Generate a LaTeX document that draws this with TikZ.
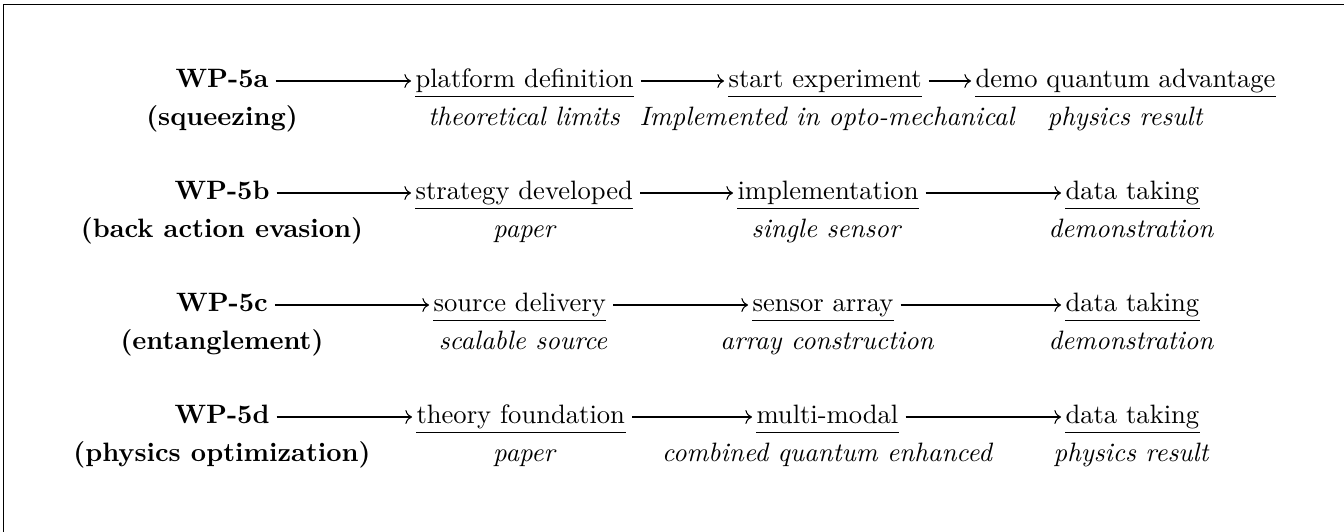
\documentclass[tikz,border=0pt]{standalone}
\usepackage{amsmath,amssymb}
\usepackage{tikz}
\usetikzlibrary{arrows.meta,calc,positioning}

\begin{document}
\begin{tikzpicture}[x=0.376pt,y=-0.376pt,
    wp/.style={font=\bfseries,inner sep=0pt,text height=1.6ex,text depth=0.5ex},
    milestone/.style={anchor=west,inner xsep=0pt,inner ysep=1pt,text height=1.6ex,text depth=0.5ex,
      append after command={(\tikzlastnode.south west) edge[-] (\tikzlastnode.south east)}},
    outcome/.style={font=\itshape,inner sep=0pt,text height=1.6ex,text depth=0.5ex},
    flow/.style={->,shorten <=2.5pt,shorten >=1.5pt}]
    \useasboundingbox (0,0) rectangle (1344,532);
    % Ramme (kun top og venstre side ses)
    \draw[line width=0.6pt] (1344,4.5) -- (3.5,4.5) -- (3.5,532);
    % WP-5a
    \node[wp] (wpa) at (222,81) {WP-5a};
    \node[wp] (wpatag) at (222,119) {(squeezing)};
    \node[milestone] (pa1) at (415,81) {platform definition};
    \node[milestone] (pa2) at (728,81) {start experiment};
    \node[milestone] (pa3) at (975,81) {demo quantum advantage\ };
    \node[outcome] (oa1) at (524,119) {theoretical limits};
    \node[outcome] (oa2) at (827,119) {Implemented in opto-mechanical};
    \node[outcome] (oa3) at (1125,119) {physics result};
    \draw[flow] (wpa) -- (pa1);
    \draw[flow] (pa1) -- (pa2);
    \draw[flow] (pa2) -- (pa3);
    % WP-5b
    \node[wp] (wpb) at (222,193) {WP-5b};
    \node[wp] (wpbtag) at (222,231) {(back action evasion)};
    \node[milestone] (pb1) at (415,193) {strategy developed};
    \node[milestone] (pb2) at (737,193) {implementation};
    \node[milestone] (pb3) at (1065,193) {data taking};
    \node[outcome] (ob1) at (524,231) {paper};
    \node[outcome] (ob2) at (826,231) {single sensor};
    \node[outcome] (ob3) at (1131,231) {demonstration};
    \draw[flow] (wpb) -- (pb1);
    \draw[flow] (pb1) -- (pb2);
    \draw[flow] (pb2) -- (pb3);
    % WP-5c
    \node[wp] (wpc) at (222,305) {WP-5c};
    \node[wp] (wpctag) at (222,343) {(entanglement)};
    \node[milestone] (pc1) at (433,305) {source delivery\ };
    \node[milestone] (pc2) at (752,305) {sensor array\ };
    \node[milestone] (pc3) at (1065,305) {data taking};
    \node[outcome] (oc1) at (523,343) {scalable source};
    \node[outcome] (oc2) at (827,343) {array construction};
    \node[outcome] (oc3) at (1131,343) {demonstration};
    \draw[flow] (wpc) -- (pc1);
    \draw[flow] (pc1) -- (pc2);
    \draw[flow] (pc2) -- (pc3);
    % WP-5d
    \node[wp] (wpd) at (222,417) {WP-5d};
    \node[wp] (wpdtag) at (222,455) {(physics optimization)};
    \node[milestone] (pd1) at (416,417) {theory foundation\ };
    \node[milestone] (pd2) at (756,417) {multi-modal};
    \node[milestone] (pd3) at (1065,417) {data taking};
    \node[outcome] (od1) at (524,455) {paper};
    \node[outcome] (od2) at (827,455) {combined quantum enhanced};
    \node[outcome] (od3) at (1131,455) {physics result};
    \draw[flow] (wpd) -- (pd1);
    \draw[flow] (pd1) -- (pd2);
    \draw[flow] (pd2) -- (pd3);
  \end{tikzpicture}
\end{document}
